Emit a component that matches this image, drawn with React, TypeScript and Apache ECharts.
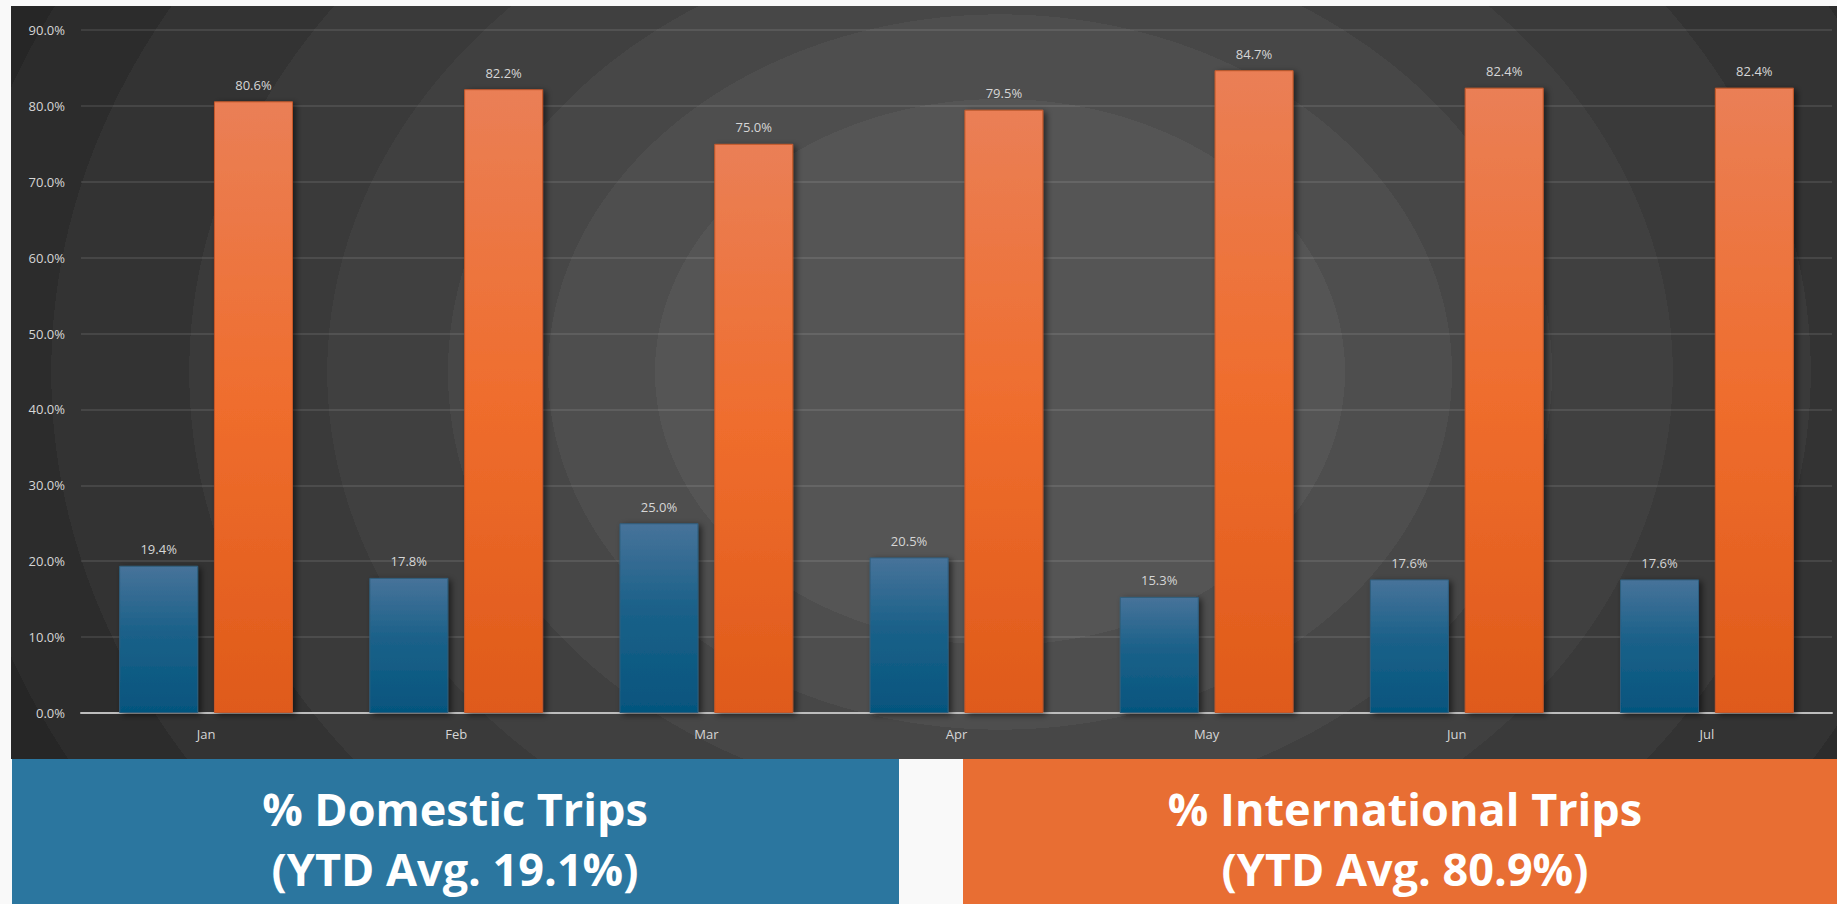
import React, { useEffect, useRef } from "react";
import * as echarts from "echarts";

const categories = ["Jan", "Feb", "Mar", "Apr", "May", "Jun", "Jul"];
const domestic = [19.4, 17.8, 25.0, 20.5, 15.3, 17.6, 17.6];
const international = [80.6, 82.2, 75.0, 79.5, 84.7, 82.4, 82.4];
const yTicks = { min: 0, max: 90, interval: 10 };
const domesticTitle = "% Domestic Trips";
const domesticAvg = "(YTD Avg. 19.1%)";
const internationalTitle = "% International Trips";
const internationalAvg = "(YTD Avg. 80.9%)";

const W = 1837;
const H = 904;

const pct = (v: number) => `${v.toFixed(1)}%`;

export default function App() {
  const ref = useRef<HTMLDivElement>(null);

  useEffect(() => {
    if (!ref.current) return;
    const chart = echarts.init(ref.current, undefined, { renderer: "svg" });
    const labelStyle = {
      show: true,
      position: "top" as const,
      distance: 10,
      color: "#d6d6d6",
      fontSize: 13,
      fontFamily: "Open Sans",
      formatter: (p: any) => pct(p.value),
    };
    const blueGrad = {
      type: "linear",
      x: 0,
      y: 0,
      x2: 0,
      y2: 1,
      colorStops: [
        { offset: 0, color: "#47739a" },
        { offset: 0.45, color: "#1b6189" },
        { offset: 1, color: "#05557e" },
      ],
    };
    const orangeGrad = {
      type: "linear",
      x: 0,
      y: 0,
      x2: 0,
      y2: 1,
      colorStops: [
        { offset: 0, color: "#ea7f56" },
        { offset: 0.5, color: "#ef6d2d" },
        { offset: 1, color: "#df5a1a" },
      ],
    };
    const shadow = {
      shadowColor: "rgba(0,0,0,0.55)",
      shadowBlur: 6,
      shadowOffsetX: 3,
      shadowOffsetY: 2,
    };
    chart.setOption({
      animation: false,
      backgroundColor: "transparent",
      grid: { left: 81, right: 5, top: 30, bottom: 191, containLabel: false },
      xAxis: {
        type: "category",
        data: categories,
        axisLine: { show: true, lineStyle: { color: "#bdbdbd", width: 2 } },
        axisTick: { show: false },
        axisLabel: {
          color: "#d6d6d6",
          fontSize: 13,
          fontFamily: "Open Sans",
          margin: 14,
        },
      },
      yAxis: {
        type: "value",
        min: yTicks.min,
        max: yTicks.max,
        interval: yTicks.interval,
        axisLine: { show: false },
        axisTick: { show: false },
        splitLine: { lineStyle: { color: "rgba(255,255,255,0.13)", width: 1.5 } },
        axisLabel: {
          color: "#d6d6d6",
          fontSize: 13,
          fontFamily: "Open Sans",
          margin: 16,
          formatter: (v: number) => pct(v),
        },
      },
      series: [
        {
          name: "Domestic",
          type: "bar",
          data: domestic,
          barWidth: 79,
          barGap: "20%",
          itemStyle: { color: blueGrad, borderColor: "#2f5f7e", borderWidth: 1, ...shadow },
          label: labelStyle,
        },
        {
          name: "International",
          type: "bar",
          data: international,
          barWidth: 79,
          barGap: "20%",
          itemStyle: { color: orangeGrad, borderColor: "#c4582a", borderWidth: 1, ...shadow },
          label: labelStyle,
        },
      ],
      graphic: [
        { type: "rect", shape: { x: 12, y: 759, width: 887, height: 145 }, style: { fill: "#2b769f" } },
        { type: "rect", shape: { x: 963, y: 759, width: 874, height: 145 }, style: { fill: "#e86e33" } },
        {
          type: "text",
          x: 455,
          y: 808,
          style: {
            text: domesticTitle,
            fill: "#ffffff",
            font: "bold 45px 'Open Sans'",
            align: "center",
            verticalAlign: "middle",
          },
        },
        {
          type: "text",
          x: 455,
          y: 868,
          style: {
            text: domesticAvg,
            fill: "#ffffff",
            font: "bold 45px 'Open Sans'",
            align: "center",
            verticalAlign: "middle",
          },
        },
        {
          type: "text",
          x: 1405,
          y: 808,
          style: {
            text: internationalTitle,
            fill: "#ffffff",
            font: "bold 45px 'Open Sans'",
            align: "center",
            verticalAlign: "middle",
          },
        },
        {
          type: "text",
          x: 1405,
          y: 868,
          style: {
            text: internationalAvg,
            fill: "#ffffff",
            font: "bold 45px 'Open Sans'",
            align: "center",
            verticalAlign: "middle",
          },
        },
      ],
    });
    return () => chart.dispose();
  }, []);

  const panelBg =
    "radial-gradient(ellipse 345px 273px at 989px 366px, " +
    "#555555 0%, #555555 100%, #4e4e4e 100%, #4e4e4e 131%, #474747 131%, #474747 160%, " +
    "#404040 160%, #404040 195%, #3a3a3a 195%, #3a3a3a 235%, #333333 235%, #333333 275%, " +
    "#2c2c2c 275%, #2c2c2c 305%, #262626 305%)";

  return (
    <div
      style={{
        position: "fixed",
        left: 0,
        top: 0,
        width: W,
        height: H,
        background: "#f9f9f9",
        overflow: "hidden",
      }}
    >
      <div
        style={{
          position: "absolute",
          left: 11,
          top: 6,
          width: W - 11,
          height: 753,
          background: panelBg,
        }}
      />
      <div ref={ref} style={{ position: "absolute", left: 0, top: 0, width: W, height: H }} />
    </div>
  );
}
